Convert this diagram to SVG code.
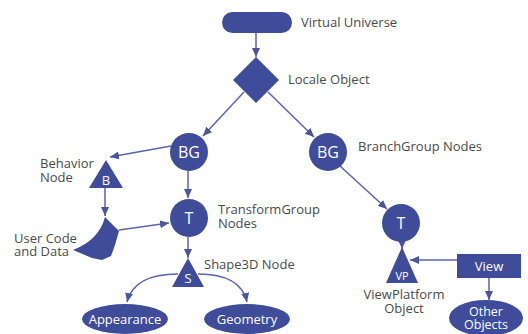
<svg xmlns="http://www.w3.org/2000/svg" width="528" height="334" viewBox="0 0 528 334">
  <style>
    .node { fill: #3f4c9a; }
    .lbl { font-family: "Open Sans", "Noto Sans", sans-serif; font-size: 13px; fill: #4a4a4a; }
    .in { font-family: "Open Sans", "Noto Sans", sans-serif; fill: #ffffff; text-anchor: middle; }
    .edge { fill: none; stroke: #5a64a8; stroke-width: 1.5; marker-end: url(#arrow); }
  </style>
  <defs>
    <marker id="arrow" markerUnits="userSpaceOnUse" markerWidth="9" markerHeight="8" refX="9" refY="4" orient="auto">
      <path d="M0,0 L9,4 L0,8 z" fill="#4a559e"/>
    </marker>
  </defs>
  <rect width="528" height="334" fill="#ffffff"/>

  <!-- connectors -->
  <g id="connectors">
    <line class="edge" x1="256" y1="33" x2="256" y2="57"/>
    <line class="edge" x1="244" y1="92" x2="203" y2="136"/>
    <line class="edge" x1="268" y1="92" x2="314" y2="137"/>
    <line class="edge" x1="171" y1="146" x2="110" y2="157"/>
    <line class="edge" x1="188" y1="171" x2="188" y2="198"/>
    <line class="edge" x1="105" y1="188" x2="105" y2="216"/>
    <line class="edge" x1="119" y1="230" x2="169" y2="223"/>
    <line class="edge" x1="188" y1="237" x2="188" y2="258"/>
    <path class="edge" d="M178,274 Q134,274 127,302"/>
    <path class="edge" d="M198,274 Q241,274 247,302"/>
    <line class="edge" x1="340" y1="166" x2="387" y2="209"/>
    <line class="edge" x1="402" y1="242" x2="402" y2="249"/>
    <line class="edge" x1="457" y1="260" x2="410" y2="260"/>
    <line class="edge" x1="489" y1="278" x2="489" y2="300"/>
  </g>

  <g id="virtual-universe">
    <rect class="node" x="222" y="12" width="70" height="21" rx="10.5"/>
    <text class="lbl" x="301" y="27">Virtual Universe</text>
  </g>

  <g id="locale">
    <polygon class="node" points="256,57 279,80 256,103 233,80"/>
    <text class="lbl" x="288" y="84">Locale Object</text>
  </g>

  <g id="bg-left">
    <circle class="node" cx="189" cy="152" r="19"/>
    <text class="in" x="189" y="158" font-size="16">BG</text>
  </g>

  <g id="bg-right">
    <circle class="node" cx="328" cy="152" r="19"/>
    <text class="in" x="328" y="158" font-size="16">BG</text>
    <text class="lbl" x="358" y="151">BranchGroup Nodes</text>
  </g>

  <g id="behavior">
    <polygon class="node" points="106,160 123,188 89,188"/>
    <text class="in" x="106" y="185" font-size="13">B</text>
    <text class="lbl" x="40" y="168">Behavior</text>
    <text class="lbl" x="40" y="182">Node</text>
  </g>

  <g id="user-code">
    <path class="node" d="M105,217 L115,227 L119,231 L117,238 L115,245 L111,256 L102,260 L92,258 L73,250 Q99,240 105,217 z"/>
    <text class="lbl" x="14" y="243">User Code</text>
    <text class="lbl" x="14" y="256">and Data</text>
  </g>

  <g id="t-left">
    <circle class="node" cx="189" cy="218" r="19"/>
    <text class="in" x="189" y="224" font-size="16">T</text>
    <text class="lbl" x="218" y="214">TransformGroup</text>
    <text class="lbl" x="218" y="228">Nodes</text>
  </g>

  <g id="shape3d">
    <polygon class="node" points="188,258 204,287 172,287"/>
    <text class="in" x="188" y="283" font-size="13">S</text>
    <text class="lbl" x="204" y="269">Shape3D Node</text>
  </g>

  <g id="appearance">
    <ellipse class="node" cx="125" cy="319" rx="43" ry="15"/>
    <text class="in" x="125" y="324" font-size="13">Appearance</text>
  </g>

  <g id="geometry">
    <ellipse class="node" cx="247" cy="319" rx="43" ry="15"/>
    <text class="in" x="247" y="324" font-size="13">Geometry</text>
  </g>

  <g id="t-right">
    <circle class="node" cx="401" cy="223" r="19"/>
    <text class="in" x="401" y="229" font-size="16">T</text>
  </g>

  <g id="view-platform">
    <polygon class="node" points="402,247 418,283 386,283"/>
    <text class="in" x="402" y="280" font-size="11">VP</text>
    <text class="lbl" x="404" y="299" text-anchor="middle">ViewPlatform</text>
    <text class="lbl" x="404" y="313" text-anchor="middle">Object</text>
  </g>

  <g id="view">
    <rect class="node" x="457" y="254" width="64" height="24"/>
    <text class="in" x="489" y="271" font-size="13">View</text>
  </g>

  <g id="other-objects">
    <ellipse class="node" cx="486" cy="318" rx="37" ry="18"/>
    <text class="in" x="486" y="316" font-size="12.5">Other</text>
    <text class="in" x="486" y="329" font-size="12.5">Objects</text>
  </g>
</svg>
